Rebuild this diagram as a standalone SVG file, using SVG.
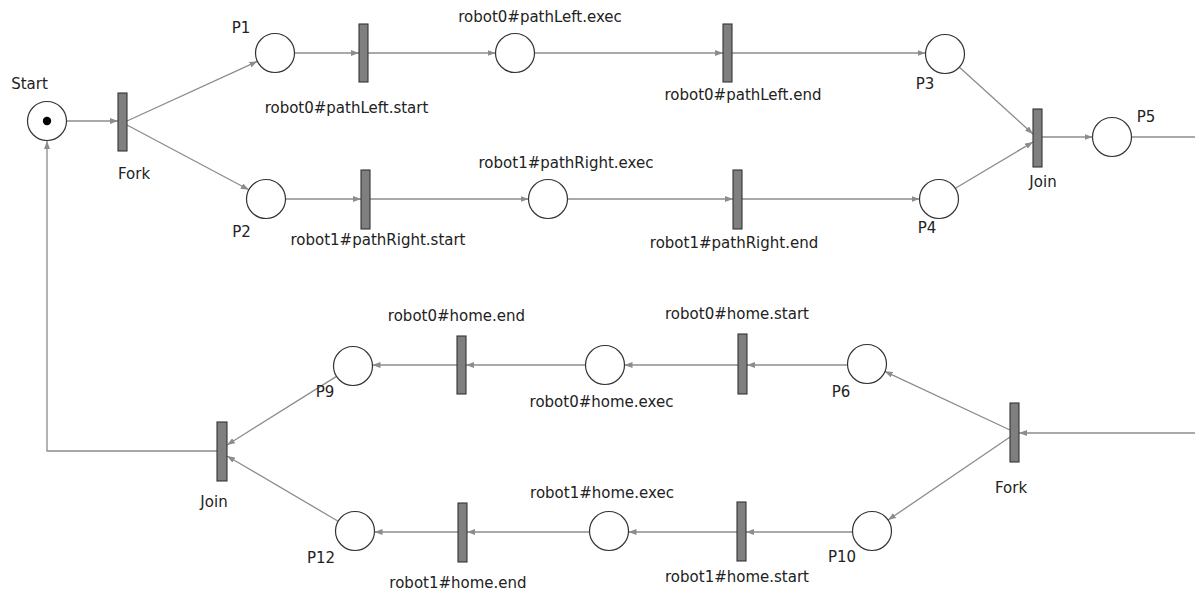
<svg xmlns="http://www.w3.org/2000/svg" width="1195" height="592" viewBox="0 0 1195 592">
<style>
.pl{fill:#fff;stroke:#333;stroke-width:1.2}
.tr{fill:#7f7f7f;stroke:#333;stroke-width:1.1}
.lb{font-family:"DejaVu Sans",sans-serif;font-size:15px;fill:#222;text-anchor:middle}
.c{fill:none;stroke:#8c8c8c;stroke-width:1.3}
.a{marker-end:url(#ah)}
</style>
<defs>
<marker id="ah" markerUnits="userSpaceOnUse" markerWidth="8" markerHeight="6" refX="8" refY="3" orient="auto">
<path d="M0,0 L8,3 L0,6 z" fill="#8c8c8c"/>
</marker>
</defs>
<rect width="1195" height="592" fill="#fff"/>
<g id="connectors">
<line class="c a" x1="67" y1="121" x2="118" y2="121"/>
<line class="c a" x1="127" y1="121" x2="257.4" y2="61.3"/>
<line class="c a" x1="127" y1="125" x2="248.8" y2="189.8"/>
<line class="c a" x1="294.5" y1="53" x2="359" y2="53"/>
<line class="c a" x1="368" y1="53" x2="495.5" y2="53"/>
<line class="c a" x1="534.5" y1="53" x2="723" y2="53"/>
<line class="c a" x1="732" y1="53" x2="925.5" y2="53"/>
<line class="c a" x1="959.4" y1="67.2" x2="1033" y2="134"/>
<line class="c a" x1="955.8" y1="188" x2="1033" y2="142"/>
<line class="c a" x1="1042" y1="137" x2="1092.5" y2="137"/>
<line class="c" x1="1131.5" y1="137" x2="1195" y2="137"/>
<line class="c a" x1="285.5" y1="199" x2="361" y2="199"/>
<line class="c a" x1="370" y1="199" x2="528.5" y2="199"/>
<line class="c a" x1="567.5" y1="199" x2="733" y2="199"/>
<line class="c a" x1="742" y1="199" x2="919.5" y2="199"/>
<line class="c a" x1="1195" y1="433" x2="1019" y2="433"/>
<line class="c a" x1="1010" y1="430" x2="884.7" y2="371.3"/>
<line class="c a" x1="1010" y1="437" x2="888.1" y2="520"/>
<line class="c a" x1="847.5" y1="365" x2="747" y2="365"/>
<line class="c a" x1="738" y1="365" x2="624.5" y2="365"/>
<line class="c a" x1="585.5" y1="365" x2="466" y2="365"/>
<line class="c a" x1="457" y1="365" x2="372.5" y2="365"/>
<line class="c a" x1="336.5" y1="376.4" x2="227" y2="445"/>
<line class="c a" x1="338.1" y1="521.2" x2="227" y2="456"/>
<line class="c a" x1="852.5" y1="532" x2="746" y2="532"/>
<line class="c a" x1="737" y1="532" x2="628.5" y2="532"/>
<line class="c a" x1="589.5" y1="532" x2="467" y2="532"/>
<line class="c a" x1="458" y1="532" x2="374.5" y2="532"/>
<polyline class="c a" points="217,451 47,451 47,141"/>
</g>
<g id="start"><circle class="pl" cx="47" cy="121" r="19.5"/><circle cx="47" cy="121" r="4.2" fill="#000"/><text class="lb" x="29.5" y="89">Start</text></g>
<g id="fork1"><rect class="tr" x="118" y="93" width="9" height="58"/><text class="lb" x="134" y="179">Fork</text></g>
<g id="p1"><circle class="pl" cx="275" cy="53" r="19.5"/><text class="lb" x="241" y="33">P1</text></g>
<g id="t_pathLeft_start"><rect class="tr" x="359" y="24" width="9" height="58"/><text class="lb" x="346.5" y="113">robot0#pathLeft.start</text></g>
<g id="p_pathLeft_exec"><circle class="pl" cx="515" cy="53" r="19.5"/><text class="lb" x="540" y="22">robot0#pathLeft.exec</text></g>
<g id="t_pathLeft_end"><rect class="tr" x="723" y="24" width="9" height="58"/><text class="lb" x="743" y="100">robot0#pathLeft.end</text></g>
<g id="p3"><circle class="pl" cx="945" cy="54" r="19.5"/><text class="lb" x="925" y="89">P3</text></g>
<g id="join1"><rect class="tr" x="1033" y="109" width="9" height="58"/><text class="lb" x="1043" y="187">Join</text></g>
<g id="p5"><circle class="pl" cx="1112" cy="137" r="19.5"/><text class="lb" x="1146" y="122">P5</text></g>
<g id="p2"><circle class="pl" cx="266" cy="199" r="19.5"/><text class="lb" x="241.5" y="237">P2</text></g>
<g id="t_pathRight_start"><rect class="tr" x="361" y="170" width="9" height="59"/><text class="lb" x="378" y="245">robot1#pathRight.start</text></g>
<g id="p_pathRight_exec"><circle class="pl" cx="548" cy="199" r="19.5"/><text class="lb" x="566" y="168">robot1#pathRight.exec</text></g>
<g id="t_pathRight_end"><rect class="tr" x="733" y="170" width="9" height="59"/><text class="lb" x="734" y="248">robot1#pathRight.end</text></g>
<g id="p4"><circle class="pl" cx="939" cy="199" r="19.5"/><text class="lb" x="927" y="233">P4</text></g>
<g id="fork2"><rect class="tr" x="1010" y="403" width="9" height="59"/><text class="lb" x="1011" y="493">Fork</text></g>
<g id="p6"><circle class="pl" cx="867" cy="364" r="19.5"/><text class="lb" x="841" y="397">P6</text></g>
<g id="t_home0_start"><rect class="tr" x="738" y="334" width="9" height="60"/><text class="lb" x="737" y="319">robot0#home.start</text></g>
<g id="p_home0_exec"><circle class="pl" cx="605" cy="365" r="19.5"/><text class="lb" x="601.5" y="407">robot0#home.exec</text></g>
<g id="t_home0_end"><rect class="tr" x="457" y="336" width="9" height="58"/><text class="lb" x="456.5" y="321">robot0#home.end</text></g>
<g id="p9"><circle class="pl" cx="353" cy="366" r="19.5"/><text class="lb" x="325" y="397">P9</text></g>
<g id="join2"><rect class="tr" x="217" y="422" width="10" height="59"/><text class="lb" x="214" y="507">Join</text></g>
<g id="p10"><circle class="pl" cx="872" cy="531" r="19.5"/><text class="lb" x="842" y="562">P10</text></g>
<g id="t_home1_start"><rect class="tr" x="737" y="502" width="9" height="59"/><text class="lb" x="737" y="582">robot1#home.start</text></g>
<g id="p_home1_exec"><circle class="pl" cx="609" cy="531" r="19.5"/><text class="lb" x="602" y="498">robot1#home.exec</text></g>
<g id="t_home1_end"><rect class="tr" x="458" y="503" width="9" height="59"/><text class="lb" x="458" y="588">robot1#home.end</text></g>
<g id="p12"><circle class="pl" cx="355" cy="531" r="19.5"/><text class="lb" x="321" y="563">P12</text></g>
</svg>
